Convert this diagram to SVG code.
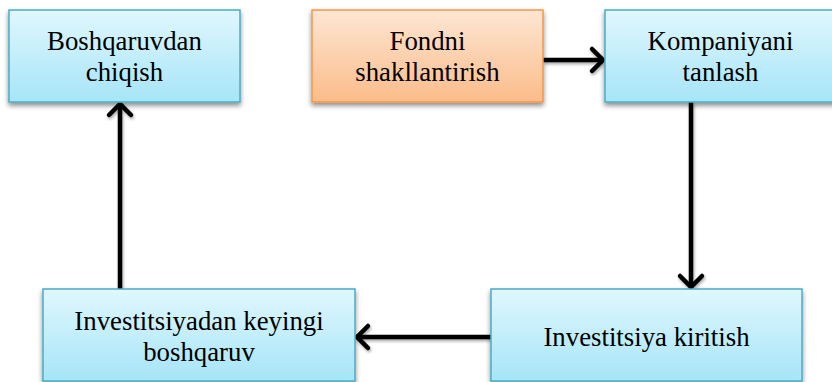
<svg xmlns="http://www.w3.org/2000/svg" width="832" height="382" viewBox="0 0 832 382">
<defs>
<linearGradient id="gBlue" x1="0" y1="0" x2="0" y2="1">
<stop offset="0" stop-color="#e0f7fd"/>
<stop offset="1" stop-color="#a6e5f8"/>
</linearGradient>
<linearGradient id="gOrange" x1="0" y1="0" x2="0" y2="1">
<stop offset="0" stop-color="#fde6d3"/>
<stop offset="1" stop-color="#fbbc8a"/>
</linearGradient>
<filter id="sh" x="-10%" y="-10%" width="120%" height="130%">
<feGaussianBlur in="SourceAlpha" stdDeviation="2.5"/>
<feOffset dx="0" dy="3" result="b"/>
<feComponentTransfer><feFuncA type="linear" slope="0.45"/></feComponentTransfer>
<feMerge><feMergeNode/><feMergeNode in="SourceGraphic"/></feMerge>
</filter>
<filter id="lsh" x="-20%" y="-20%" width="140%" height="140%">
<feGaussianBlur in="SourceAlpha" stdDeviation="1.5"/>
<feOffset dx="1" dy="2"/>
<feComponentTransfer><feFuncA type="linear" slope="0.35"/></feComponentTransfer>
<feMerge><feMergeNode/><feMergeNode in="SourceGraphic"/></feMerge>
</filter>
<marker id="arr" markerUnits="userSpaceOnUse" viewBox="-16 -14 20 28" refX="0" refY="0" markerWidth="20" markerHeight="28" orient="auto" overflow="visible">
<path d="M -11 -11 L 0 0 L -11 11" fill="none" stroke="#000" stroke-width="4.5" stroke-linecap="round" stroke-linejoin="miter"/>
</marker>
</defs>
<style>
.blue { fill: url(#gBlue); stroke: #4bacc6; stroke-width: 1.5; }
.orange { fill: url(#gOrange); stroke: #f79646; stroke-width: 1.5; }
.t { font-family: 'Liberation Serif', 'Times New Roman', serif; font-size: 26.8px; fill: #000; text-anchor: middle; }
.conn { stroke: #000; stroke-width: 4.5; fill: none; marker-end: url(#arr); }
</style>
<g id="connectors" filter="url(#lsh)">
<line class="conn" x1="543" y1="60" x2="603" y2="60"/>
<line class="conn" x1="691" y1="102" x2="691" y2="287"/>
<line class="conn" x1="491" y1="337" x2="357" y2="337"/>
<line class="conn" x1="120" y1="289" x2="120" y2="104"/>
</g>
<g id="node-boshqaruvdan-chiqish">
<rect class="blue" x="9" y="10" width="231" height="92" filter="url(#sh)"/>
<text class="t" x="124.5" y="50">Boshqaruvdan</text>
<text class="t" x="124.5" y="81">chiqish</text>
</g>
<g id="node-fondni-shakllantirish">
<rect class="orange" x="312" y="10" width="231" height="92" filter="url(#sh)"/>
<text class="t" x="427.5" y="50">Fondni</text>
<text class="t" x="427.5" y="81">shakllantirish</text>
</g>
<g id="node-kompaniyani-tanlash">
<rect class="blue" x="605" y="10" width="231" height="92" filter="url(#sh)"/>
<text class="t" x="720.5" y="50">Kompaniyani</text>
<text class="t" x="720.5" y="81">tanlash</text>
</g>
<g id="node-investitsiyadan-keyingi-boshqaruv">
<rect class="blue" x="43" y="289" width="312" height="92" filter="url(#sh)"/>
<text class="t" x="199" y="330">Investitsiyadan keyingi</text>
<text class="t" x="199" y="361">boshqaruv</text>
</g>
<g id="node-investitsiya-kiritish">
<rect class="blue" x="491" y="289" width="311" height="92" filter="url(#sh)"/>
<text class="t" x="646.5" y="346">Investitsiya kiritish</text>
</g>
</svg>
